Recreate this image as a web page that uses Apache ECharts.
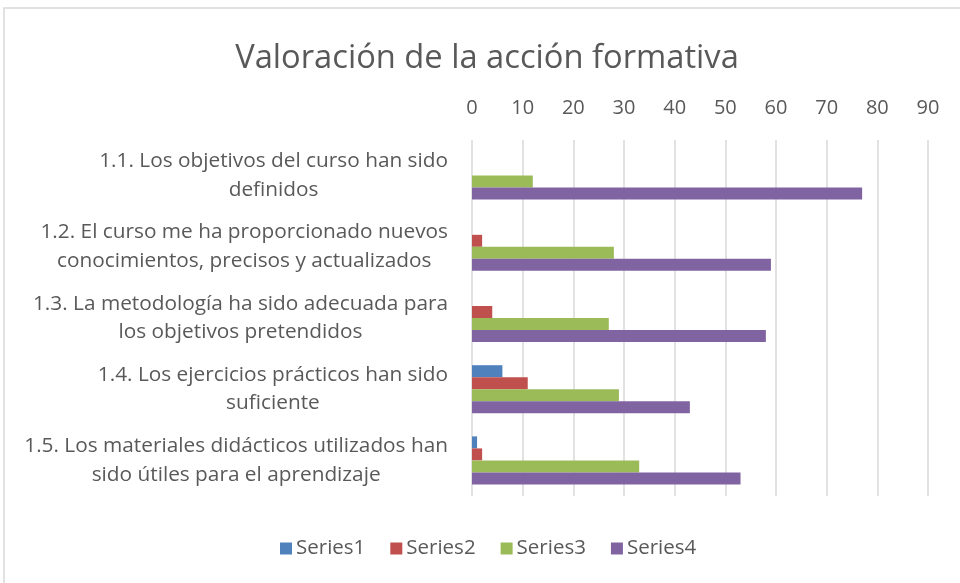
<!DOCTYPE html>
<html>
<head>
<meta charset="utf-8">
<script src="https://cdn.jsdelivr.net/npm/echarts@6/dist/echarts.min.js"></script>
<style>
html,body{margin:0;padding:0;background:#fff;}
#chart{width:960px;height:583px;}
</style>
</head>
<body>
<div id="chart"></div>
<script>
var categories = [
  "1.1. Los objetivos del curso han sido\ndefinidos",
  "1.2. El curso me ha proporcionado nuevos\nconocimientos, precisos y actualizados",
  "1.3. La metodología ha sido adecuada para\nlos objetivos pretendidos",
  "1.4. Los ejercicios prácticos han sido\nsuficiente",
  "1.5. Los materiales didácticos utilizados han\nsido útiles para el aprendizaje"
];
var seriesNames = ["Series1", "Series2", "Series3", "Series4"];
var series1 = [0, 0, 0, 6, 1];
var series2 = [0, 2, 4, 11, 2];
var series3 = [12, 28, 27, 29, 33];
var series4 = [77, 59, 58, 43, 53];
var colors = ["#4F81BD", "#C0504D", "#9BBB59", "#8064A2"];
var font = "'Open Sans', sans-serif";

var chart = echarts.init(document.getElementById('chart'));
var data = [series1, series2, series3, series4];
chart.setOption({
  animation: false,
  color: colors,
  textStyle: {fontFamily: font},
  title: {
    text: "Valoración de la acción formativa",
    left: 482, top: 37, textAlign: 'center',
    textStyle: {fontFamily: font, fontSize: 32.7, fontWeight: 'normal', color: '#595959'}
  },
  graphic: [{
    type: 'rect', shape: {x: 4, y: 8, width: 970, height: 600},
    style: {fill: 'none', stroke: '#d9d9d9', lineWidth: 1.5}, silent: true
  }],
  legend: {
    top: 533, left: 275, itemWidth: 12, itemHeight: 12, itemGap: 25,
    icon: 'rect',
    textStyle: {fontFamily: font, fontSize: 20.5, color: '#595959', padding: [0,0,0,-1]},
    data: seriesNames
  },
  grid: {left: 472, right: 32, top: 140, bottom: 87, containLabel: false},
  xAxis: {
    type: 'value', position: 'top', min: 0, max: 90, interval: 10,
    axisLine: {show: false}, axisTick: {show: false},
    axisLabel: {color: '#595959', fontSize: 20, fontFamily: font, margin: 22},
    splitLine: {lineStyle: {color: '#d9d9d9', width: 1.5}}
  },
  yAxis: {
    type: 'category', inverse: true, data: categories,
    axisLine: {show: false}, axisTick: {show: false},
    axisLabel: {
      margin: 24, align: 'right',
      formatter: function (v) {
        return v.split('\n').map(function (l) { return '{c|' + l + '}'; }).join('\n');
      },
      rich: {c: {align: 'center', fontSize: 20.8, lineHeight: 28.5, fontFamily: font, color: '#595959'}}
    }
  },
  series: seriesNames.map(function (n, i) {
    return {name: n, type: 'bar', data: data[i], barWidth: 12, barGap: '0%', barCategoryGap: '32%'};
  })
});
</script>
</body>
</html>
